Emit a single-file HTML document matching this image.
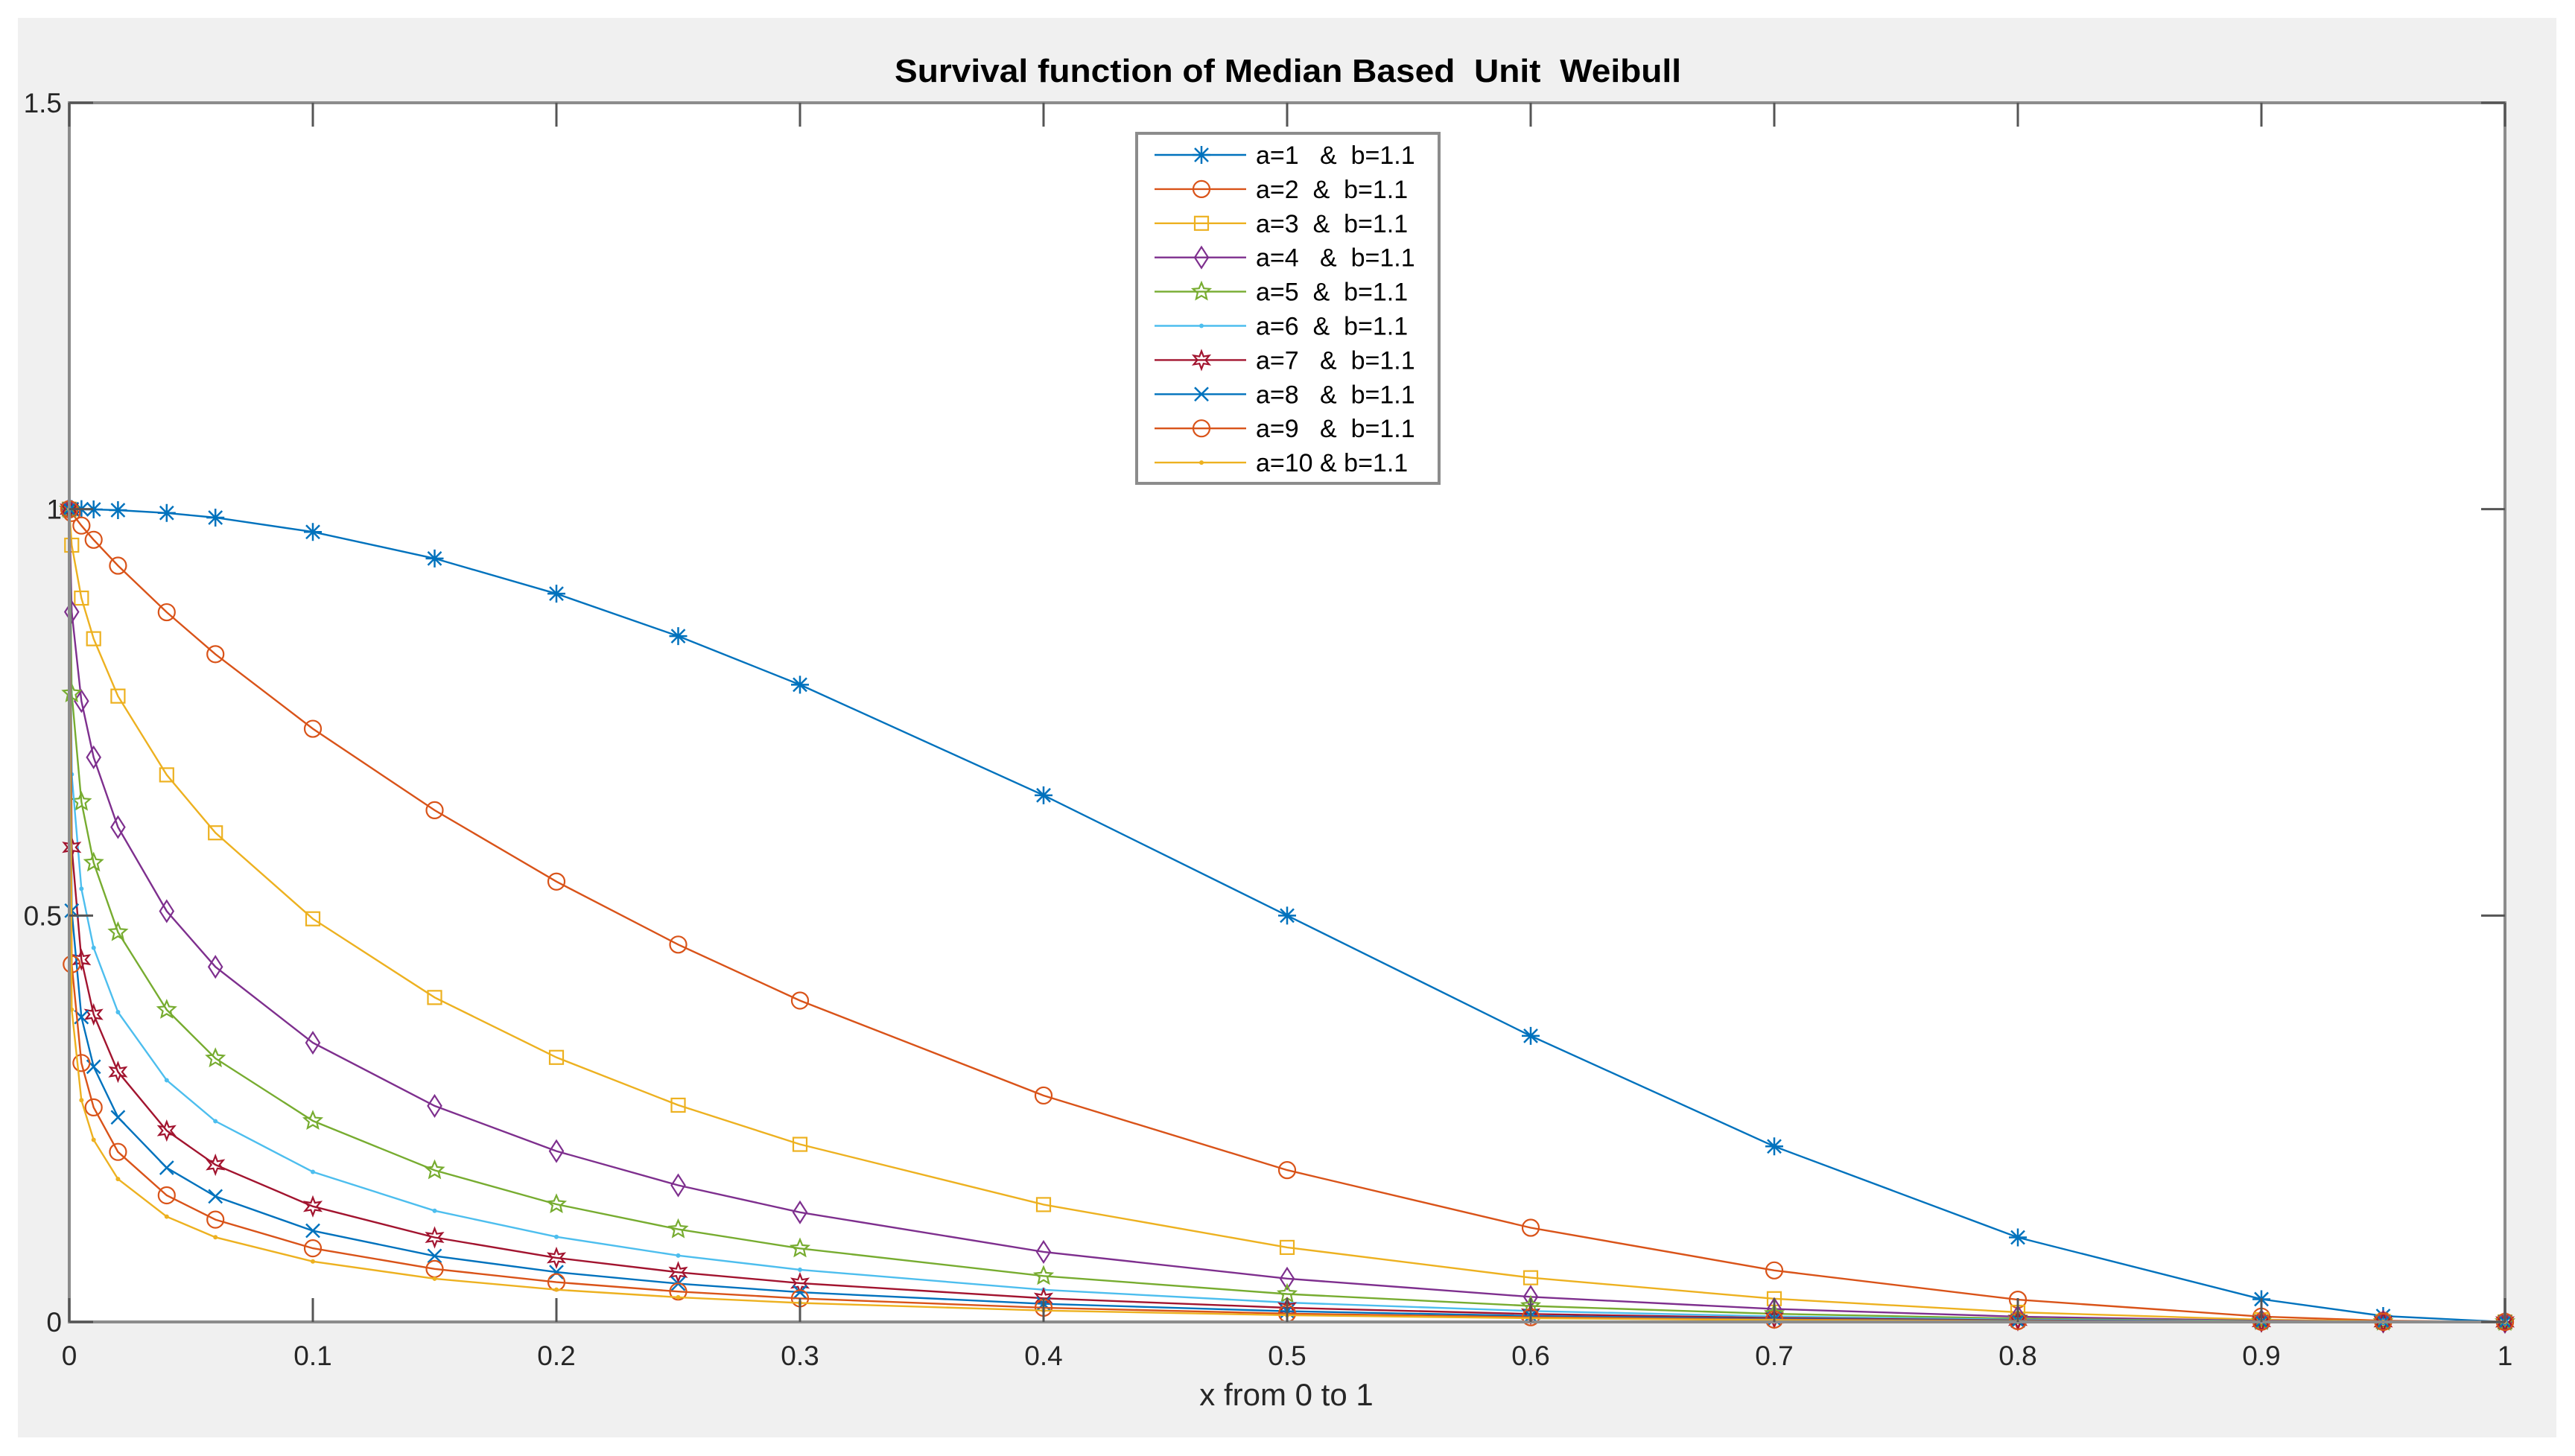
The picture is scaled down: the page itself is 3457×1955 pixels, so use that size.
<!DOCTYPE html>
<html><head><meta charset="utf-8"><style>
html,body{margin:0;padding:0;background:#fff;}
svg{display:block;}
text{font-family:"Liberation Sans",sans-serif;}
</style></head><body>
<svg id="chart" width="3457" height="1955" viewBox="0 0 3457 1955" xmlns="http://www.w3.org/2000/svg">
<rect x="24" y="24" width="3408" height="1906" fill="#f0f0f0"/>
<rect x="93" y="138" width="3270" height="1637" fill="#fff"/>
<text x="1729" y="110" text-anchor="middle" font-size="44" font-weight="bold" fill="#000" textLength="1056" lengthAdjust="spacingAndGlyphs" style="white-space:pre">Survival function of Median Based  Unit  Weibull</text>
<text x="1727" y="1887" text-anchor="middle" font-size="42" fill="#262626">x from 0 to 1</text>
<g id="grid"></g>
<g id="series"></g>
<g id="axes"></g>
<g id="legend"></g>
</svg>
<script>
const xs = [0, 0.001, 0.005, 0.01, 0.02, 0.04, 0.06, 0.1, 0.15, 0.2, 0.25, 0.3, 0.4, 0.5, 0.6, 0.7, 0.8, 0.9, 0.95, 1];
const s1 = [1, 1.000, 1.000, 0.9997, 0.9988, 0.9953, 0.9896, 0.972, 0.9393, 0.896, 0.8438, 0.784, 0.648, 0.5, 0.352, 0.216, 0.104, 0.028, 0.0073, 0];
const s2 = [1, 0.9953, 0.9798, 0.9623, 0.9305, 0.8732, 0.8216, 0.7298, 0.6296, 0.5418, 0.4643, 0.3954, 0.2786, 0.1868, 0.1159, 0.0634, 0.0274, 0.0066, 0.0016, 0];
const s3 = [1, 0.9557, 0.8906, 0.8406, 0.7700, 0.6731, 0.6018, 0.4960, 0.3992, 0.3255, 0.2667, 0.2185, 0.1444, 0.0917, 0.0544, 0.0286, 0.0119, 0.0028, 0.0007, 0];
const s4 = [1, 0.8736, 0.7639, 0.6947, 0.6088, 0.5054, 0.4369, 0.3435, 0.2658, 0.2102, 0.1681, 0.1349, 0.0862, 0.0533, 0.0309, 0.0159, 0.0065, 0.0015, 0.0004, 0];
const s5 = [1, 0.7733, 0.6399, 0.5651, 0.4795, 0.3840, 0.3243, 0.2474, 0.1866, 0.1448, 0.1140, 0.0904, 0.0565, 0.0344, 0.0197, 0.0100, 0.0041, 0.0009, 0.0002, 0];
const s6 = [1, 0.6737, 0.5329, 0.4603, 0.3812, 0.2974, 0.2470, 0.1846, 0.1368, 0.1047, 0.0817, 0.0642, 0.0396, 0.0238, 0.0135, 0.0068, 0.0028, 0.0006, 0.0001, 0];
const s7 = [1, 0.5840, 0.4457, 0.3783, 0.3077, 0.2354, 0.1933, 0.1422, 0.1040, 0.0789, 0.0611, 0.0477, 0.0291, 0.0174, 0.0098, 0.0049, 0.0020, 0.0004, 0.0001, 0];
const s8 = [1, 0.5060, 0.3751, 0.3140, 0.2518, 0.1897, 0.1545, 0.1122, 0.0812, 0.0613, 0.0471, 0.0366, 0.0223, 0.0132, 0.0074, 0.0037, 0.0015, 0.0003, 0.0001, 0];
const s9 = [1, 0.4401, 0.3186, 0.2640, 0.2092, 0.1558, 0.1259, 0.0906, 0.0652, 0.0489, 0.0374, 0.0290, 0.0175, 0.0103, 0.0058, 0.0029, 0.0011, 0.0003, 0.0001, 0];
const s10 = [1, 0.3843, 0.2728, 0.2240, 0.1758, 0.1296, 0.1042, 0.0744, 0.0532, 0.0397, 0.0303, 0.0234, 0.0140, 0.0083, 0.0046, 0.0023, 0.0009, 0.0002, 0.0001, 0];
const seriesNames = ["a=1   &  b=1.1","a=2  &  b=1.1","a=3  &  b=1.1","a=4   &  b=1.1","a=5  &  b=1.1","a=6  &  b=1.1","a=7   &  b=1.1","a=8   &  b=1.1","a=9   &  b=1.1","a=10 & b=1.1"];
const xTicks = [0,0.1,0.2,0.3,0.4,0.5,0.6,0.7,0.8,0.9,1];
const xTickLabels = ["0","0.1","0.2","0.3","0.4","0.5","0.6","0.7","0.8","0.9","1"];
const yTicks = [0,0.5,1,1.5];
const yTickLabels = ["0","0.5","1","1.5"];

const allSeries = [s1,s2,s3,s4,s5,s6,s7,s8,s9,s10];
const colors = ["#0072BD","#D95319","#EDB120","#7E2F8E","#77AC30","#4DBEEE","#A2142F","#0072BD","#D95319","#EDB120"];
const markers = ["star","circle","square","diamond","pentagram","dot","hexagram","x","circle","dot"];
const L=93,R=3363,T=138,B=1775;
const sx = v => L + v*(R-L);
const sy = v => B - v/1.5*(B-T);
const NS="http://www.w3.org/2000/svg";
function mk(tag, attrs, parent){const e=document.createElementNS(NS,tag);for(const k in attrs)e.setAttribute(k,attrs[k]);parent.appendChild(e);return e;}

function drawMarker(type, cx, cy, col, parent){
  const r=11;
  let e;
  if(type==="circle"){e=mk("circle",{cx:cx,cy:cy,r:r,fill:"none",stroke:col,"stroke-width":2.2},parent);}
  else if(type==="square"){e=mk("rect",{x:cx-9,y:cy-9,width:18,height:18,fill:"none",stroke:col,"stroke-width":2.2},parent);}
  else if(type==="diamond"){e=mk("polygon",{points:`${cx},${cy-14} ${cx+9},${cy} ${cx},${cy+14} ${cx-9},${cy}`,fill:"none",stroke:col,"stroke-width":2.2},parent);}
  else if(type==="dot"){e=mk("circle",{cx:cx,cy:cy,r:3,fill:col},parent);}
  else if(type==="x"){e=mk("path",{d:`M${cx-9},${cy-9}L${cx+9},${cy+9}M${cx-9},${cy+9}L${cx+9},${cy-9}`,stroke:col,"stroke-width":2.5,fill:"none"},parent);}
  else if(type==="star"){e=mk("path",{d:`M${cx},${cy-12}V${cy+12}M${cx-12},${cy}H${cx+12}M${cx-9},${cy-9}L${cx+9},${cy+9}M${cx-9},${cy+9}L${cx+9},${cy-9}`,stroke:col,"stroke-width":2.5,fill:"none"},parent);}
  else if(type==="pentagram"||type==="hexagram"){
    const n=type==="pentagram"?5:6; let pts=[];
    for(let i=0;i<2*n;i++){const a=-Math.PI/2+i*Math.PI/n;const rr=i%2?5.5:12;pts.push((cx+rr*Math.cos(a)).toFixed(1)+","+(cy+rr*Math.sin(a)).toFixed(1));}
    e=mk("polygon",{points:pts.join(" "),fill:"none",stroke:col,"stroke-width":2.2},parent);
  }
  
  
  return e;
}

const gS=document.getElementById("series");
allSeries.forEach((vals,i)=>{
  const g=mk("g",{},gS);
  
  
  const d=vals.map((v,j)=>(j?"L":"M")+sx(xs[j]).toFixed(1)+","+sy(v).toFixed(1)).join("");
  const p=mk("path",{d:d,fill:"none",stroke:colors[i],"stroke-width":2.4},g);
  
  
  vals.forEach((v,j)=>drawMarker(markers[i],sx(xs[j]),sy(v),colors[i],g));
});

const gA=document.getElementById("axes");
const frame=mk("rect",{x:L,y:T,width:R-L,height:B-T,fill:"none",stroke:"#8c8c8c","stroke-width":4},gA);


xTicks.forEach((v,i)=>{
  const x=sx(v);
  const t=mk("path",{d:`M${x},${B}V${B-32}M${x},${T}V${T+32}`,stroke:"#555","stroke-width":3},gA);
  
  
  const lb=mk("text",{x:x,y:B+58,"text-anchor":"middle","font-size":37,fill:"#262626"},gA);
  lb.textContent=xTickLabels[i];
  
  
});
yTicks.forEach((v,i)=>{
  const y=sy(v);
  const t=mk("path",{d:`M${L},${y}H${L+32}M${R},${y}H${R-32}`,stroke:"#555","stroke-width":3},gA);
  
  
  const lb=mk("text",{x:L-10,y:y+13,"text-anchor":"end","font-size":37,fill:"#262626"},gA);
  lb.textContent=yTickLabels[i];
  
  
});

const gL=document.getElementById("legend");


const lbox=mk("rect",{x:1526,y:179,width:406,height:470,fill:"#fff",stroke:"#8c8c8c","stroke-width":4},gL);


seriesNames.forEach((nm,i)=>{
  const y=208+i*45.9;
  const g=mk("g",{},gL);
  
  
  mk("line",{x1:1550,y1:y,x2:1673,y2:y,stroke:colors[i],"stroke-width":2.4},g);
  drawMarker(markers[i],1613,y,colors[i],g);
  const t=mk("text",{x:1686,y:y+12,"font-size":34,fill:"#000",style:"white-space:pre"},g);
  t.textContent=nm;
  
  
});
</script>
</body></html>
